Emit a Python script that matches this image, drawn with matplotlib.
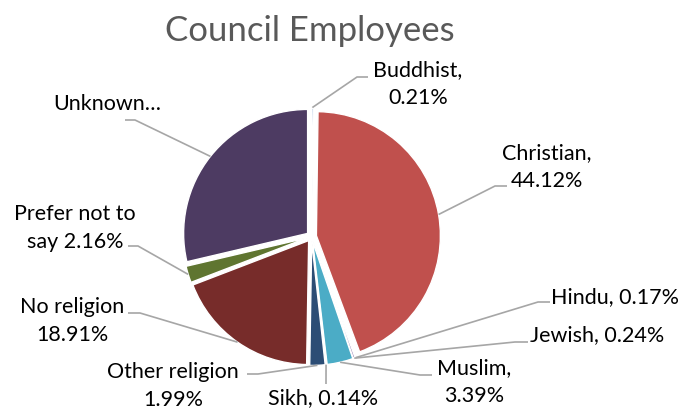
import numpy as np
import matplotlib
matplotlib.use("Agg")
import matplotlib.pyplot as plt

# Religion breakdown of council employees (percent)
categories = ["Buddhist", "Christian", "Hindu", "Jewish", "Muslim", "Sikh",
              "Other religion", "No religion", "Prefer not to say", "Unknown"]
shares = [0.21, 44.12, 0.17, 0.24, 3.39, 0.14, 1.99, 18.91, 2.16, 28.67]
label_texts = ["Buddhist,\n0.21%", "Christian,\n44.12%", "Hindu, 0.17%",
               "Jewish, 0.24%", "Muslim,\n3.39%", "Sikh, 0.14%",
               "Other religion\n1.99%", "No religion\n18.91%",
               "Prefer not to\nsay 2.16%", "Unknown…"]
colors = ["#4F81BD", "#C0504D", "#9BBB59", "#8064A2", "#4BACC6", "#F79646",
          "#2C4D75", "#772C2A", "#5F7530", "#4D3B62"]

W, H = 681, 410
fig = plt.figure(figsize=(W / 100, H / 100), dpi=100)
ax = fig.add_axes([0, 0, 1, 1])

def Y(y):
    # convert top-down pixel row into axis units
    return H - y

cx, cy, R = 311.5, Y(237.5), 124
# pie's explode offset is in data units, so scale it by the radius
gap = 0.04 * R
wedges, _ = ax.pie(shares, colors=colors, startangle=90, counterclock=False,
                   radius=R, center=(cx, cy), explode=[gap] * len(shares),
                   wedgeprops=dict(edgecolor="white", linewidth=1.0))

ax.set_xlim(0, W)
ax.set_ylim(0, H)
ax.set_aspect("equal")
ax.axis("off")

font = "Lato"
lab_size = 15.5
# label centre (x, y) and leader elbow points
layout = {
    "Buddhist":          dict(pos=(418, 84),  elbow=[(368, 78), (357, 78)]),
    "Christian":         dict(pos=(547, 167), elbow=[(507, 187), (495, 187)]),
    "Hindu":             dict(pos=(615, 297), elbow=[(550, 303), (538, 303)]),
    "Jewish":            dict(pos=(597, 335), elbow=[(528, 343), (515, 343)]),
    "Muslim":            dict(pos=(474, 382), elbow=[(432, 376), (420, 376)]),
    "Sikh":              dict(pos=(323, 398), elbow=[(326, 385)]),
    "Other religion":    dict(pos=(173, 386), elbow=[(247, 375), (258, 375)]),
    "No religion":       dict(pos=(72, 321),  elbow=[(128, 314), (140, 314)]),
    "Prefer not to say": dict(pos=(75, 228),  elbow=[(128, 247), (138, 247)]),
    "Unknown":           dict(pos=(107, 104), elbow=[(125, 121), (135, 121)]),
}

for w, cat, txt in zip(wedges, categories, label_texts):
    spec = layout[cat]
    mid = np.deg2rad((w.theta1 + w.theta2) / 2)
    ax0, ay0 = w.center
    anchor = (ax0 + w.r * np.cos(mid), ay0 + w.r * np.sin(mid))
    pts = [(x, Y(y)) for x, y in spec["elbow"]] + [anchor]
    xs, ys = zip(*pts)
    ax.plot(xs, ys, color="#A6A6A6", lw=1.2, solid_capstyle="butt", zorder=1)
    lx, ly = spec["pos"]
    ax.text(lx, Y(ly), txt, ha="center", va="center", fontsize=lab_size,
            family=font, color="#000000", linespacing=1.45, multialignment="center")

ax.text(310, Y(31), "Council Employees", ha="center", va="center",
        fontsize=25, family=font, color="#595959")

fig.savefig("out.png", dpi=100)
